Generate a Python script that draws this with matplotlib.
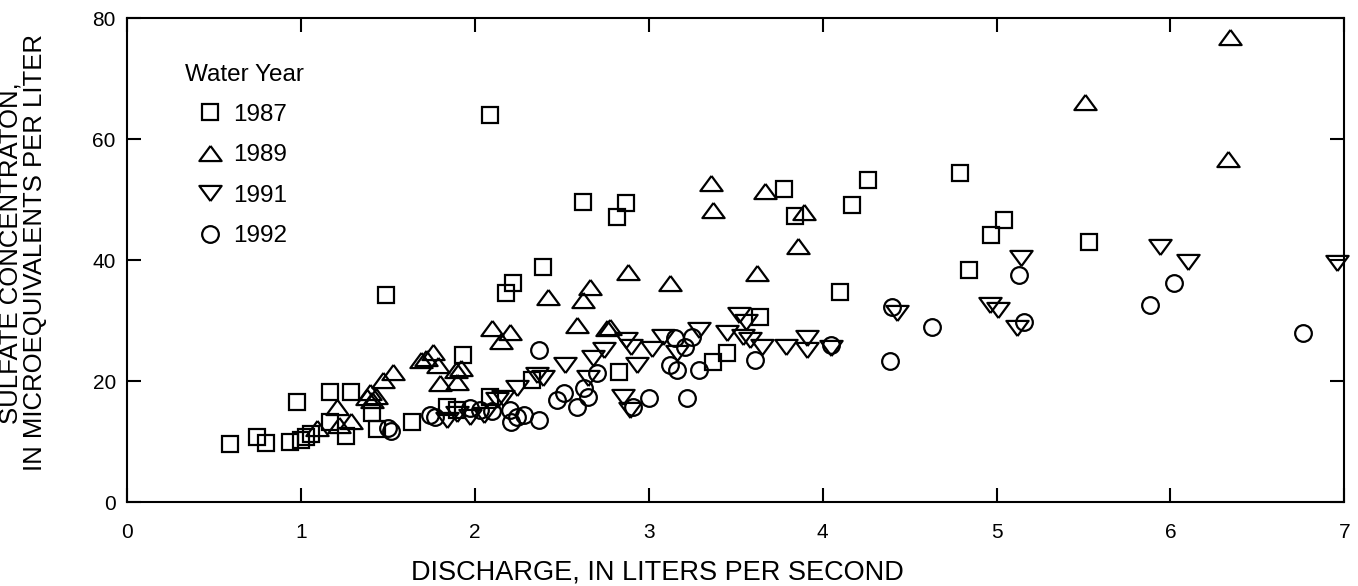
import numpy as np
import matplotlib
matplotlib.use("Agg")
import matplotlib.pyplot as plt

plt.rcParams['font.family'] = ['Liberation Sans', 'DejaVu Sans']

# Water year 1987 (squares)
q_1987 = [0.59, 0.75, 0.80, 0.94, 1.00, 1.03, 1.06, 0.98, 1.17, 1.29, 1.17, 1.26, 1.41, 1.44,
          1.49, 1.64, 1.84, 1.90, 1.93, 2.09, 2.09, 2.18, 2.22, 2.33, 2.39, 2.62, 2.82, 2.83,
          2.87, 3.37, 3.45, 3.64, 3.78, 3.84, 4.10, 4.17, 4.26, 4.79, 4.84, 4.97, 5.04, 5.53]
s_1987 = [9.6, 10.7, 9.8, 9.9, 10.2, 10.8, 11.3, 16.5, 18.2, 18.2, 13.2, 10.9, 14.7, 12.1,
          34.2, 13.2, 15.7, 15.3, 24.3, 17.4, 64.0, 34.5, 36.2, 20.2, 38.8, 49.6, 47.1, 21.6,
          49.4, 23.1, 24.6, 30.6, 51.7, 47.3, 34.7, 49.1, 53.2, 54.4, 38.3, 44.1, 46.6, 43.0]

# Water year 1989 (triangles up)
q_1989 = [1.09, 1.21, 1.22, 1.29, 1.38, 1.40, 1.41, 1.43, 1.47, 1.53, 1.69, 1.72, 1.76, 1.79,
          1.80, 1.89, 1.90, 1.92, 2.10, 2.15, 2.20, 2.42, 2.59, 2.62, 2.66, 2.76, 2.78, 2.88,
          3.12, 3.36, 3.37, 3.62, 3.67, 3.86, 3.89, 5.51, 6.33, 6.34]
s_1989 = [12.2, 15.7, 12.7, 13.5, 17.4, 18.2, 16.9, 17.5, 20.2, 21.5, 23.5, 23.8, 24.8, 22.6,
          19.7, 21.8, 19.8, 22.2, 28.8, 26.6, 28.1, 33.9, 29.3, 33.4, 35.5, 28.8, 29.0, 38.0,
          36.2, 52.7, 48.3, 37.9, 51.4, 42.3, 47.9, 66.1, 56.8, 76.9]

# Water year 1991 (triangles down)
q_1991 = [1.84, 1.90, 1.97, 2.05, 2.13, 2.16, 2.24, 2.36, 2.39, 2.52, 2.65, 2.68, 2.74, 2.85,
          2.87, 2.89, 2.90, 2.93, 3.02, 3.08, 3.16, 3.29, 3.45, 3.52, 3.54, 3.56, 3.58, 3.65,
          3.79, 3.91, 3.91, 4.05, 4.43, 4.96, 5.01, 5.12, 5.14, 5.94, 6.10, 6.96]
s_1991 = [13.6, 14.5, 14.0, 14.4, 16.9, 17.2, 18.8, 21.0, 20.5, 22.6, 20.5, 23.8, 25.1, 17.4,
          26.8, 15.2, 25.6, 22.6, 25.4, 27.3, 24.6, 28.4, 27.9, 30.9, 27.3, 29.8, 26.8, 25.6,
          25.6, 27.1, 25.1, 25.5, 31.2, 32.6, 31.7, 28.8, 40.3, 42.2, 39.7, 39.5]

# Water year 1992 (circles)
q_1992 = [1.50, 1.52, 1.74, 1.77, 1.97, 2.03, 2.10, 2.20, 2.21, 2.24, 2.28, 2.37, 2.37, 2.47,
          2.51, 2.59, 2.63, 2.65, 2.70, 2.91, 3.00, 3.12, 3.15, 3.16, 3.21, 3.22, 3.25, 3.29,
          3.61, 4.05, 4.39, 4.40, 4.63, 5.13, 5.16, 5.88, 6.02, 6.76]
s_1992 = [12.2, 11.8, 14.4, 14.1, 15.5, 15.2, 15.0, 15.2, 13.2, 14.0, 14.4, 25.1, 13.6, 16.9,
          18.0, 15.7, 18.8, 17.4, 21.3, 15.7, 17.2, 22.6, 27.1, 21.8, 25.6, 17.2, 27.3, 21.8,
          23.5, 25.9, 23.3, 32.2, 28.9, 37.5, 29.8, 32.6, 36.2, 27.9]

tri_up = [(0, 0.68), (-1, -0.68), (1, -0.68), (0, 0.68)]
tri_down = [(0, -0.68), (-1, 0.68), (1, 0.68), (0, -0.68)]

fig = plt.figure(figsize=(13.58, 5.86), dpi=100)
ax = fig.add_axes([0.0935, 0.143, 0.8965, 0.826])

style = dict(ls='none', mfc='none', mec='black', mew=1.6, clip_on=False)
ax.plot(q_1987, s_1987, marker='s', ms=12, label='1987', **style)
ax.plot(q_1989, s_1989, marker=tri_up, ms=16, label='1989', **style)
ax.plot(q_1991, s_1991, marker=tri_down, ms=16, label='1991', **style)
ax.plot(q_1992, s_1992, marker='o', ms=12, label='1992', **style)

ax.set_xlim(0, 7)
ax.set_ylim(0, 80)
ax.set_xticks(np.arange(0, 8, 1))
ax.set_yticks(np.arange(0, 81, 20))
ax.tick_params(direction='in', length=10, width=1.5, top=True, right=True, labelsize=15)
ax.tick_params(axis='x', pad=15)
ax.tick_params(axis='y', pad=8)
for sp in ax.spines.values():
    sp.set_linewidth(1.5)

ax.set_xlabel('DISCHARGE, IN LITERS PER SECOND', fontsize=19.5, va='top')
ax.xaxis.set_label_coords(0.436, -0.118)
ax.set_ylabel('SULFATE CONCENTRATON,\nIN MICROEQUIVALENTS PER LITER', fontsize=18.5,
              linespacing=1.0)
ax.yaxis.set_label_coords(-0.066, 0.515)

# legend: title as plain text, entries indented below it
ax.text(0.0476, 0.905, 'Water Year', transform=ax.transAxes, fontsize=17.5,
        ha='left', va='top')
leg = ax.legend(loc='upper left', bbox_to_anchor=(0.0585, 0.823), frameon=False,
                fontsize=17.5, borderpad=0, borderaxespad=0, handletextpad=0.45,
                labelspacing=0.76, handlelength=1.0)

fig.savefig('out.png', dpi=100)
